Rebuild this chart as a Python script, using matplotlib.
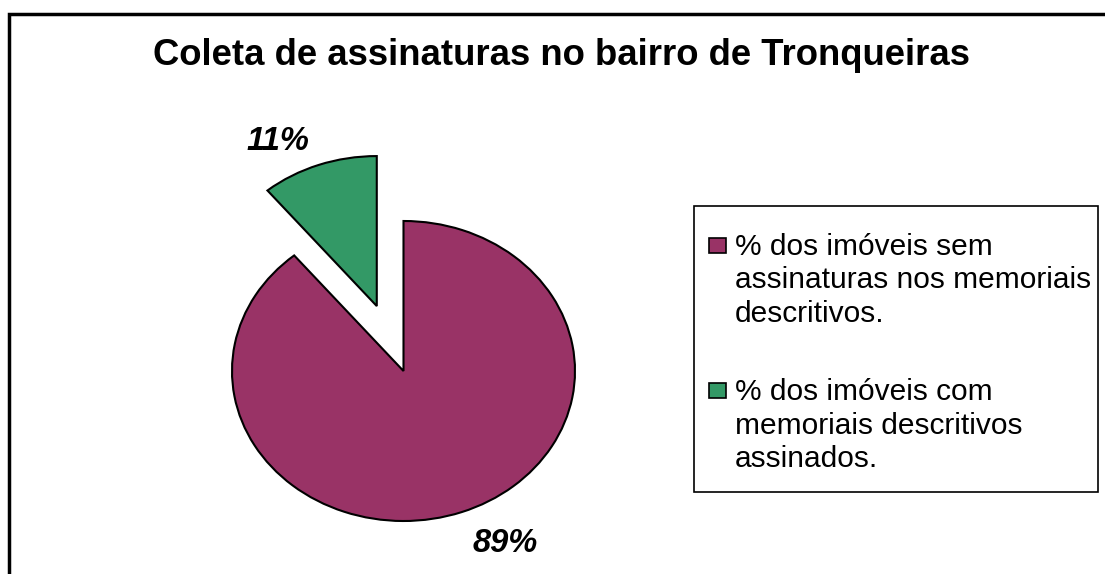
import matplotlib.pyplot as plt
from matplotlib.patches import Rectangle

plt.rcParams['font.family'] = ['Liberation Sans', 'DejaVu Sans']

title = 'Coleta de assinaturas no bairro de Tronqueiras'
labels = ['% dos imóveis sem\nassinaturas nos memoriais\ndescritivos.',
          '% dos imóveis com\nmemoriais descritivos\nassinados.']
values = [89, 11]
pct_labels = ['89%', '11%']
colors = ['#993366', '#339966']
explode = [0, 0.46]

W, H = 1105, 574
fig = plt.figure(figsize=(W / 100, H / 100), dpi=100)

# outer frame (only top and left visible in the crop)
fig.patches.append(Rectangle((8.5 / W, -0.1), 1.2, (H - 14) / H + 0.1,
                             transform=fig.transFigure, fill=False,
                             edgecolor='black', linewidth=2.5))

# elliptical pie: 171 px per unit across, 150 px per unit up
cx, cy, rx, ry = 403.5, 371, 171.5, 150
span = 3.0
ax = fig.add_axes([(cx - rx * span / 2) / W, (H - cy - ry * span / 2) / H,
                   rx * span / W, ry * span / H])
wedges, _ = ax.pie(values, colors=colors, explode=explode, startangle=90,
                   counterclock=False,
                   wedgeprops=dict(edgecolor='black', linewidth=1.5))
ax.set_aspect('auto')
ax.set_xlim(-span / 2, span / 2)
ax.set_ylim(-span / 2, span / 2)
ax.axis('off')

# percentage labels
label_px = [(505, 544), (278, 141)]
for txt, (px, py) in zip(pct_labels, label_px):
    ax.text((px - cx) / rx, (cy - py) / ry, txt, ha='center', va='center',
            fontsize=23.5, fontweight='bold', fontstyle='italic')

fig.text(561.5 / W, 1 - 65 / H, title, ha='center', va='baseline',
         fontsize=26.3, fontweight='bold')

# legend box
fig.patches.append(Rectangle((694 / W, 1 - 492 / H), (1098 - 694) / W,
                             (492 - 206) / H, transform=fig.transFigure,
                             fill=False, edgecolor='black', linewidth=1.2))
entry_top = [255, 400]
for lab, col, base in zip(labels, colors, entry_top):
    fig.patches.append(Rectangle((708.5 / W, 1 - (base - 2) / H), 17 / W, 15 / H,
                                 transform=fig.transFigure, facecolor=col,
                                 edgecolor='black', linewidth=1.2))
    for i, line in enumerate(lab.split('\n')):
        fig.text(735 / W, 1 - (base + 33.5 * i) / H, line, ha='left',
                 va='baseline', fontsize=21.5)

fig.savefig('out.png', dpi=100)
